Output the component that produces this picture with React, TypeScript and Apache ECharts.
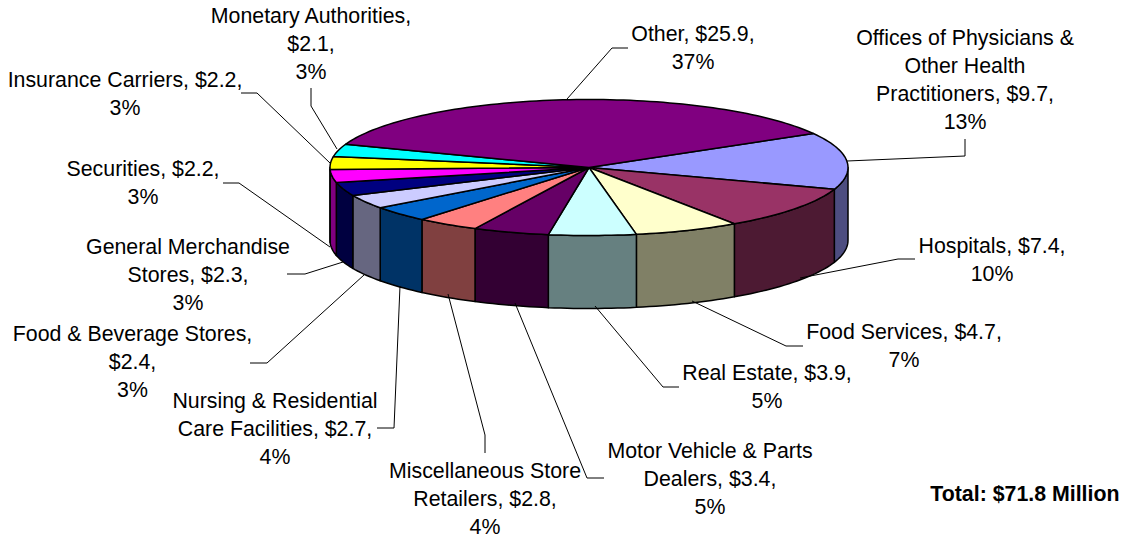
import React, { useEffect, useRef } from "react";
import * as echarts from "echarts";

// Slices, in drawing order (clockwise from the first-slice angle)
const categories = [
  "Offices of Physicians & Other Health Practitioners",
  "Hospitals",
  "Food Services",
  "Real Estate",
  "Motor Vehicle & Parts Dealers",
  "Miscellaneous Store Retailers",
  "Nursing & Residential Care Facilities",
  "Food & Beverage Stores",
  "General Merchandise Stores",
  "Securities",
  "Insurance Carriers",
  "Monetary Authorities",
  "Other",
];
const values = [9.7, 7.4, 4.7, 3.9, 3.4, 2.8, 2.7, 2.4, 2.3, 2.2, 2.2, 2.1, 25.9];
const labelTexts = [
  "Offices of Physicians &\nOther Health\nPractitioners, $9.7,\n13%",
  "Hospitals, $7.4,\n10%",
  "Food Services, $4.7,\n7%",
  "Real Estate, $3.9,\n5%",
  "Motor Vehicle & Parts\nDealers, $3.4,\n5%",
  "Miscellaneous Store\nRetailers, $2.8,\n4%",
  "Nursing & Residential\nCare Facilities, $2.7,\n4%",
  "Food & Beverage Stores,\n$2.4,\n3%",
  "General Merchandise\nStores, $2.3,\n3%",
  "Securities, $2.2,\n3%",
  "Insurance Carriers, $2.2,\n3%",
  "Monetary Authorities,\n$2.1,\n3%",
  "Other, $25.9,\n37%",
];
const totalText = "Total: $71.8 Million";

const topColors = ["#9999FF", "#993366", "#FFFFCC", "#CCFFFF", "#660066", "#FF8080", "#0066CC", "#CCCCFF", "#000080", "#FF00FF", "#FFFF00", "#00FFFF", "#800080"];
const wallColors = ["#4D4D80", "#4D1A33", "#808066", "#668080", "#330033", "#804040", "#003366", "#666680", "#000040", "#800080", "#808000", "#008080", "#400040"];

// Layout
const CX = 589;
const CY = 167.5;
const RX = 259;
const RY = 68;
const DEPTH = 73;
const FIRST_ANGLE = 60;
const FONT = "'Liberation Sans', Arial, sans-serif";
const FONT_SIZE = 21.33;
const LINE_HEIGHT = 28;

const labelCenters = [
  [965, 80], [992, 260], [904, 346], [767, 387], [710, 479], [485, 499], [275, 429],
  [132.5, 362], [188, 274.5], [143, 183], [125, 94], [311, 44], [693, 48],
];
const leaderLines = [
  [[965, 139], [965, 156], [847, 161]],
  [[915, 259], [898, 259], [800, 278]],
  [[803, 346], [786, 346], [692, 301]],
  [[679, 387], [663, 387], [595, 306]],
  [[604, 478], [587, 478], [515, 303]],
  [[485, 453], [485, 435], [448, 294]],
  [[377, 428], [394, 428], [400, 286]],
  [[250, 363], [267, 363], [364, 275]],
  [[287, 274], [305, 274], [343, 262]],
  [[223, 183], [239, 183], [330, 247]],
  [[241, 93], [257, 93], [330, 163]],
  [[311, 88], [311, 106], [337, 149]],
  [[628, 48], [612, 48], [567, 99]],
];

const total = values.reduce((a, b) => a + b, 0);
const startAngles: number[] = [];
values.reduce((acc, v, i) => {
  startAngles[i] = acc;
  return acc + v;
}, 0);

const toAngle = (cum: number) => FIRST_ANGLE + (cum / total) * 360;
const rim = (deg: number, dy = 0): number[] => {
  const r = (deg * Math.PI) / 180;
  return [CX + RX * Math.sin(r), CY - RY * Math.cos(r) + dy];
};
const arc = (a: number, b: number, dy = 0): number[][] => {
  const n = Math.max(2, Math.ceil((b - a) / 1.5));
  const pts: number[][] = [];
  for (let k = 0; k <= n; k++) pts.push(rim(a + ((b - a) * k) / n, dy));
  return pts;
};

const renderTop = (params: any, api: any) => {
  const i = params.dataIndex;
  const a = toAngle(startAngles[i]);
  const b = a + (api.value(0) / total) * 360;
  return {
    type: "polygon",
    shape: { points: [[CX, CY], ...arc(a, b)] },
    style: { fill: topColors[i], stroke: "#000", lineWidth: 1.5, lineJoin: "round" },
  };
};

const renderWall = (params: any, api: any) => {
  const i = params.dataIndex;
  const a = Math.max(toAngle(startAngles[i]), 90);
  const b = Math.min(toAngle(startAngles[i]) + (api.value(0) / total) * 360, 270);
  if (b <= a) return { type: "group", children: [] };
  return {
    type: "polygon",
    shape: { points: [...arc(a, b), ...arc(a, b, DEPTH).reverse()] },
    style: { fill: wallColors[i], stroke: "#000", lineWidth: 1.5, lineJoin: "round" },
  };
};

export default function App() {
  const ref = useRef<HTMLDivElement>(null);
  useEffect(() => {
    const chart = echarts.init(ref.current!, undefined, { renderer: "svg" });
    const data = values.map((v, i) => ({ name: categories[i], value: [v] }));
    chart.setOption({
      animation: false,
      backgroundColor: "#fff",
      series: [
        { type: "custom", coordinateSystem: "none", renderItem: renderWall, data, silent: true, clip: false },
        { type: "custom", coordinateSystem: "none", renderItem: renderTop, data, silent: true, clip: false },
      ],
      graphic: [
        ...leaderLines.map((pts) => ({
          type: "polyline",
          z: 10,
          shape: { points: pts },
          style: { stroke: "#000", lineWidth: 1, fill: "none" },
        })),
        ...labelTexts.map((text, i) => ({
          type: "text",
          z: 11,
          x: labelCenters[i][0],
          y: labelCenters[i][1],
          style: {
            text,
            fill: "#000",
            font: `${FONT_SIZE}px ${FONT}`,
            lineHeight: LINE_HEIGHT,
            textAlign: "center",
            textVerticalAlign: "middle",
          },
        })),
        {
          type: "text",
          z: 11,
          x: 1119.5,
          y: 494,
          style: {
            text: totalText,
            fill: "#000",
            font: `bold ${FONT_SIZE}px ${FONT}`,
            textAlign: "right",
            textVerticalAlign: "middle",
          },
        },
      ],
    });
    return () => chart.dispose();
  }, []);
  return <div ref={ref} style={{ position: "fixed", left: 0, top: 0, width: 1125, height: 538 }} />;
}
